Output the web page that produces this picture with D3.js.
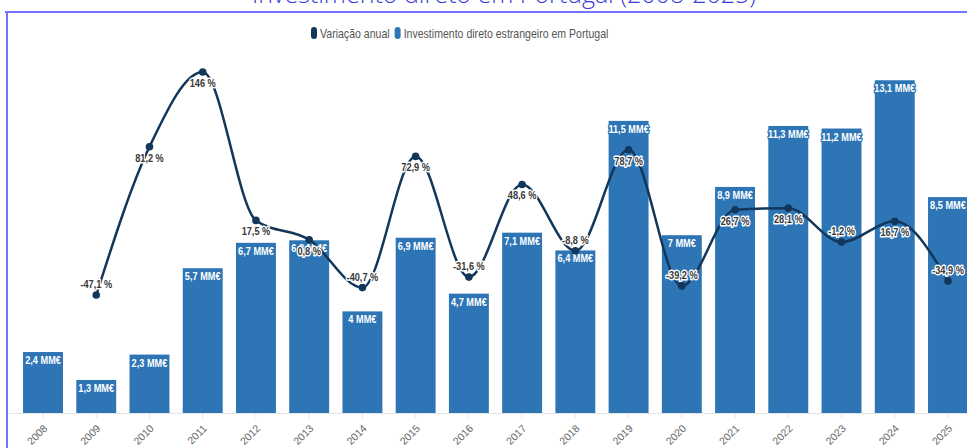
<!DOCTYPE html>
<html>
<head>
<meta charset="utf-8">
<script src="https://cdn.jsdelivr.net/npm/d3@7"></script>
<style>
  html, body { margin: 0; padding: 0; background: #fff; }
  svg { display: block; }
</style>
</head>
<body>
<script>
const years = ["2008","2009","2010","2011","2012","2013","2014","2015","2016","2017","2018","2019","2020","2021","2022","2023","2024","2025"];
const investimento = [2.4,1.3,2.3,5.7,6.7,6.8,4,6.9,4.7,7.1,6.4,11.5,7,8.9,11.3,11.2,13.1,8.5];
const variacao = [null,-47.1,81.2,146,17.5,0.8,-40.7,72.9,-31.6,48.6,-8.8,78.7,-39.2,26.7,28.1,-1.2,16.7,-34.9];
const seriesNames = ["Variação anual", "Investimento direto estrangeiro em Portugal"];
const titleText = "Investimento direto em Portugal (2008-2025)";

const W = 967, H = 448;
const barColor = "#2e75b6", lineColor = "#13375a";
const fmt = v => String(v).replace(".", ",");
const condensed = "'Liberation Sans', Arial, sans-serif";
const SX = 0.8;

const svg = d3.select("body").append("svg").attr("width", W).attr("height", H);

// title (mostly cut off at the top)
svg.append("text").attr("x", 504).attr("y", 2.5).attr("text-anchor", "middle")
  .attr("font-family", "'Open Sans', sans-serif").attr("font-size", 25).attr("font-weight", 300)
  .attr("fill", "#3a3ae0").text(titleText);

// frame
svg.append("path").attr("d", `M5,12H${W}M7,12V${H}`).attr("fill", "none")
  .attr("stroke", "#7474ff").attr("stroke-width", 2);

const x = d3.scaleBand().domain(years).range([16.4, 974.6]).paddingInner(0.25).paddingOuter(0.125);
const yBar = d3.scaleLinear().domain([0, 15]).range([413, 413 - 15 * 25.4]);
const yLine = d3.scaleLinear().domain([-50, 150]).range([240.6 + 50 * 1.155, 240.6 - 150 * 1.155]);
const cx = d => x(d.yr) + x.bandwidth() / 2;

// x axis
const xAxis = d3.axisBottom(x).tickSize(5).tickSizeOuter(0);
const gx = svg.append("g").attr("transform", "translate(0,413)").call(xAxis);
gx.select(".domain").attr("stroke", "#e3e3e3").attr("d", `M9,0.5H${W}`);
gx.selectAll(".tick line").attr("stroke", "#e3e3e3");
gx.selectAll(".tick text")
  .attr("font-family", "'Liberation Sans', Arial, sans-serif").attr("font-size", 10.5)
  .attr("fill", "#666").attr("text-anchor", "end")
  .attr("dy", null).attr("y", 0)
  .attr("transform", "translate(5,16) rotate(-45)");

// bars
const data = years.map((yr, i) => ({ yr, inv: investimento[i], vr: variacao[i] }));
svg.append("g").selectAll("rect").data(data).join("rect")
  .attr("x", d => x(d.yr)).attr("width", x.bandwidth())
  .attr("y", d => yBar(d.inv)).attr("height", d => yBar(0) - yBar(d.inv))
  .attr("fill", barColor);

// bar labels
svg.append("g").selectAll("text").data(data).join("text")
  .attr("transform", d => `translate(${cx(d)},${yBar(d.inv) + 12}) scale(${SX},1)`)
  .attr("text-anchor", "middle")
  .attr("font-family", condensed)
  .attr("font-weight", "bold").attr("font-size", 11.5)
  .attr("fill", "#fff").attr("stroke", barColor).attr("stroke-width", 3)
  .attr("paint-order", "stroke").attr("stroke-linejoin", "round")
  .text(d => fmt(d.inv) + " MM€");

// line
const lineData = data.filter(d => d.vr !== null);
const line = d3.line().x(cx).y(d => yLine(d.vr)).curve(d3.curveMonotoneX);
svg.append("path").datum(lineData).attr("d", line).attr("fill", "none")
  .attr("stroke", lineColor).attr("stroke-width", 2.5);
svg.append("g").selectAll("circle").data(lineData).join("circle")
  .attr("cx", cx).attr("cy", d => yLine(d.vr))
  .attr("r", 3.8).attr("fill", lineColor);

// line labels
svg.append("g").selectAll("text").data(lineData).join("text")
  .attr("transform", d => `translate(${cx(d)},${yLine(d.vr) + (d.vr >= 0 ? 15 : -7)}) scale(${SX},1)`)
  .attr("text-anchor", "middle")
  .attr("font-family", condensed)
  .attr("font-weight", "bold").attr("font-size", 11.5)
  .attr("fill", "#383838").attr("stroke", "#fff").attr("stroke-width", 3)
  .attr("paint-order", "stroke").attr("stroke-linejoin", "round")
  .text(d => fmt(d.vr) + " %");

// legend
const LSX = 0.88;
const legend = svg.append("g").attr("font-family", condensed)
  .attr("font-size", 12).attr("fill", "#555");
const legColors = [lineColor, barColor];
let lx = 311;
seriesNames.forEach((name, i) => {
  legend.append("rect").attr("x", lx).attr("y", 27).attr("width", 6).attr("height", 12)
    .attr("rx", 3).attr("fill", legColors[i]);
  const t = legend.append("text").attr("transform", `translate(${lx + 9},37.5) scale(${LSX},1)`).text(name);
  lx += 9 + t.node().getComputedTextLength() * LSX + 5;
});
</script>
</body>
</html>
